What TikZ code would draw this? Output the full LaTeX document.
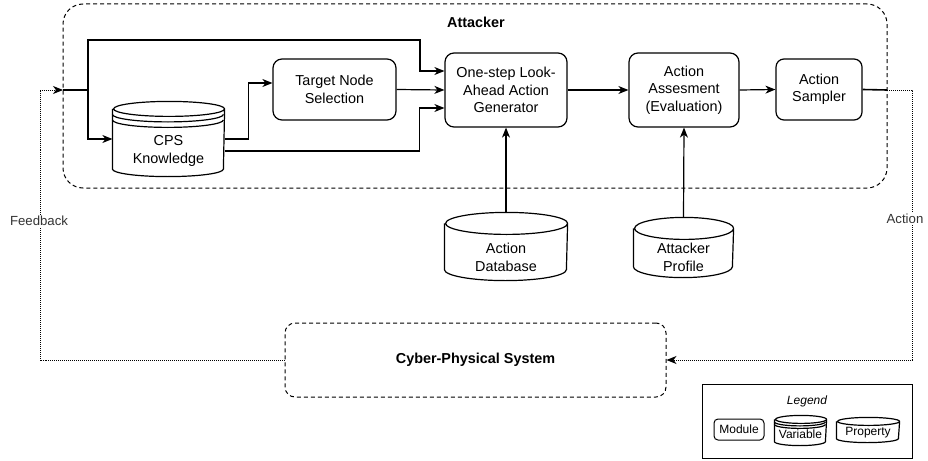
\documentclass[tikz,border=0pt]{standalone}
\usepackage{fontspec}
\setmainfont{Liberation Sans}
\usetikzlibrary{arrows.meta,positioning}

\begin{document}
\begin{tikzpicture}[x=1pt,y=-1pt,line width=1.2pt,
    font=\fontsize{14.4}{17.5}\selectfont,
    >={Stealth[length=10pt,width=8pt,inset=3pt]},
    module/.style={draw, rectangle, rounded corners=9pt, align=center, inner sep=0pt},
    store/.style={rectangle, inner sep=0pt},
    storetext/.style={align=center, inner sep=0pt},
    group/.style={draw, rectangle, rounded corners=20pt, dash pattern=on 4pt off 3pt, line width=1pt},
    fb/.style={dash pattern=on 1pt off 1pt, line width=1pt},
    title/.style={font=\fontsize{14.4}{17.5}\selectfont\bfseries},
    side/.style={fill=white, text=black!80, inner sep=1pt, font=\fontsize{13.2}{16}\selectfont},
    small/.style={font=\fontsize{12}{14.4}\selectfont}]
    \useasboundingbox (0,0) rectangle (928,460);

    % Attacker
    \node[group, minimum width=824, minimum height=184] (att) at (475,96) {};
    \node[title] (att-title) at (476,22) {Attacker};

    \node[module, minimum width=123, minimum height=61] (tns) at (334.5,89.5) {Target Node\\Selection};
    \node[module, minimum width=122, minimum height=74] (gen) at (506,90) {One-step Look-\\Ahead Action\\Generator};
    \node[module, minimum width=110, minimum height=74] (ass) at (684,90) {Action\\Assesment\\(Evaluation)};
    \node[module, minimum width=86, minimum height=61, rounded corners=8pt] (smp) at (819,89.5) {Action\\Sampler};

    \node[store, minimum width=111, minimum height=74,
        label={[storetext, yshift=-12pt]center:{CPS\\Knowledge}}] (cps) at (168.5,139) {};
    \node[store, minimum width=122, minimum height=67,
        label={[storetext, yshift=-11pt]center:{Action\\Database}}] (adb) at (506,246.5) {};
    \node[store, minimum width=99, minimum height=59,
        label={[storetext, yshift=-10pt]center:{Attacker\\Profile}}] (prof) at (683.5,247.5) {};

    % System
    \node[group, rounded corners=10pt, minimum width=381, minimum height=74, title] (sys) at (475.5,360) {Cyber-Physical System};

    % Legend
    \node[draw, rectangle, line width=1pt, minimum width=210, minimum height=74] (leg) at (807,421) {};
    \node[small, font=\fontsize{12}{14.4}\selectfont\itshape] (leg-title) at (807,401) {Legend};
    \node[module, small, rounded corners=4pt, line width=1pt, minimum width=50, minimum height=21] (lmod) at (739,429.5) {Module};
    \node[store, minimum width=51, minimum height=29,
        label={[storetext, small, yshift=-4pt]center:Variable}] (lvar) at (800.5,430.5) {};
    \node[store, minimum width=62, minimum height=24,
        label={[storetext, small, yshift=-3pt]center:Property}] (lprop) at (868,430) {};

    % cylinders
    \foreach \nd/\rx/\ry in {cps/55.5/7.5, adb/61/11, prof/49.5/11, lvar/25.5/4, lprop/31/4} {
        \draw ([yshift=-\ry pt]\nd.north west) -- ([yshift=\ry pt]\nd.south west)
            arc[start angle=180, end angle=360, x radius=\rx pt, y radius=\ry pt]
            -- ([yshift=-\ry pt]\nd.north east)
            arc[start angle=0, end angle=180, x radius=\rx pt, y radius=\ry pt]
            arc[start angle=180, end angle=360, x radius=\rx pt, y radius=\ry pt];
    }
    \foreach \nd/\rx/\ry/\gap in {cps/55.5/7.5/5.5, lvar/25.5/4/2.5} {
        \foreach \k in {1,2}
            \draw ([yshift={-(\ry+\k*\gap)*1pt}]\nd.north west)
                arc[start angle=180, end angle=360, x radius=\rx pt, y radius=\ry pt];
    }

    % connectors
    \coordinate (in) at (63,90);
    \coordinate (split) at (88,90);
    \coordinate (top-turn) at (420,40);
    \coordinate (out) at (887,90);
    \coordinate (act) at (912,90);
    \coordinate (fbk) at (40,90);

    \draw[line width=1.6pt] (in) -- (split);
    \draw[->] (split) |- (top-turn) |- ([yshift=19pt]gen.west);
    \draw[->] (split) |- (cps.west);
    \draw[->] (cps.east) -- ++(24,0) |- ([yshift=6.5pt]tns.west);
    \draw[->] ([yshift=-12pt]cps.east) -| ([xshift=-25pt,yshift=-18pt]gen.west) -- ([yshift=-18pt]gen.west);
    \draw[->] (tns.east) -- (gen.west);
    \draw[->] (gen.east) -- (ass.west);
    \draw[->] (ass.east) -- (smp.west);
    \draw[line width=1.6pt] (smp.east) -- (out);
    \draw[->] (adb.north) -- (gen.south);
    \draw[->] (prof.north) -- (ass.south);

    \draw[fb,->] (out) -- (act) |- (sys.east);
    \draw[fb,->] (sys.west) -| (fbk) -- (in);
    \node[side] (act-label) at (905,219) {Action};
    \node[side] (fb-label) at (39,221) {Feedback};
\end{tikzpicture}
\end{document}
